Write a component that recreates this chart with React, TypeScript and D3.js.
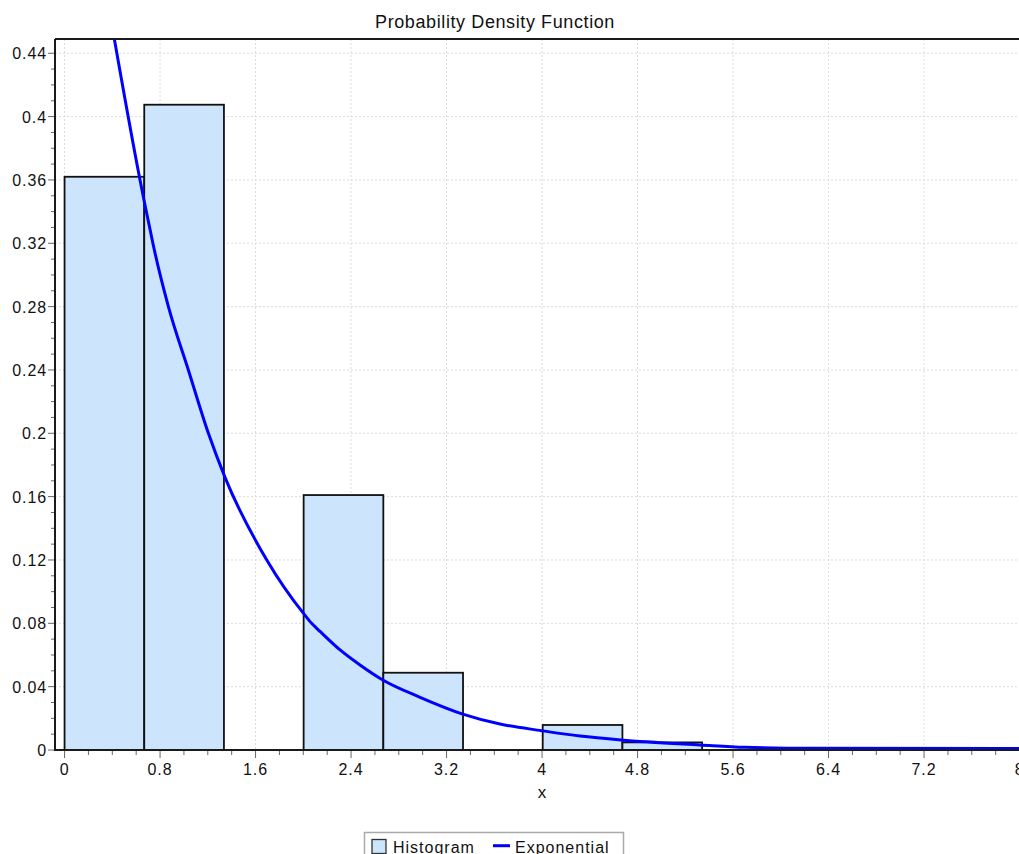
import React, { useEffect, useRef } from 'react';
import * as d3 from 'd3';

// histogram bins (density per bin)
const binEdges = [0, 0.6676, 1.3352, 2.0028, 2.6704, 3.338, 4.0056, 4.6732, 5.3408];
const binDensity = [0.362, 0.4075, 0, 0.161, 0.0488, 0, 0.0158, 0.0048];

// fitted exponential curve
const curveX = [0.41, 0.417, 0.627, 0.666, 0.71, 0.74, 0.87, 1.037, 1.205, 1.345, 1.694, 2.0, 2.07, 2.143, 2.308, 2.475, 2.666, 2.978, 3.336, 3.648, 3.997, 4.318, 4.662, 5.324, 5.7, 6.295, 8.0];
const curveY = [0.452, 0.449, 0.362, 0.347, 0.331, 0.32, 0.28, 0.24, 0.2, 0.172, 0.12, 0.0864, 0.08, 0.0747, 0.0632, 0.0537, 0.0442, 0.0333, 0.0227, 0.0164, 0.0122, 0.0088, 0.0063, 0.0032, 0.0017, 0.0011, 0.0009];

const xTicks = ['0', '0.8', '1.6', '2.4', '3.2', '4', '4.8', '5.6', '6.4', '7.2', '8'];
const yTicks = ['0', '0.04', '0.08', '0.12', '0.16', '0.2', '0.24', '0.28', '0.32', '0.36', '0.4', '0.44'];

const width = 1019;
const height = 854;
const left = 55;
const top = 39;
const bottom = 750;
const font = 'Liberation Sans, Arial, sans-serif';

const drawChart = (el: SVGSVGElement) => {
  const svg = d3.select(el);
  svg.selectAll('*').remove();

  const x = d3.scaleLinear().domain([-0.08, 8.08]).range([left, 1029.1]);
  const y = d3.scaleLinear().domain([0, 0.449]).range([bottom, top]);

  svg.append('defs').append('clipPath').attr('id', 'plot-clip')
    .append('rect').attr('x', left).attr('y', top).attr('width', 1029 - left).attr('height', bottom - top);

  // grid
  const grid = svg.append('g').attr('stroke', '#dcdcdc').attr('stroke-dasharray', '2,2').attr('stroke-width', 1);
  xTicks.forEach(t => {
    grid.append('line').attr('x1', x(+t)).attr('x2', x(+t)).attr('y1', top).attr('y2', bottom);
  });
  yTicks.forEach(t => {
    grid.append('line').attr('x1', left).attr('x2', width).attr('y1', y(+t)).attr('y2', y(+t));
  });

  const plot = svg.append('g').attr('clip-path', 'url(#plot-clip)');

  // bars
  plot.selectAll('rect.bar')
    .data(binDensity)
    .enter()
    .append('rect')
    .attr('class', 'bar')
    .attr('x', (d, i) => x(binEdges[i]))
    .attr('width', (d, i) => x(binEdges[i + 1]) - x(binEdges[i]))
    .attr('y', d => y(d))
    .attr('height', d => Math.max(0.5, bottom - y(d)))
    .attr('fill', '#cce5fc')
    .attr('stroke', '#111')
    .attr('stroke-width', 1.8);

  // curve
  const pts: [number, number][] = curveX.map((v, i) => [v, curveY[i]]);
  const line = d3.line<[number, number]>()
    .x(d => x(d[0]))
    .y(d => y(d[1]))
    .curve(d3.curveMonotoneX);
  plot.append('path')
    .attr('d', line(pts))
    .attr('fill', 'none')
    .attr('stroke', '#0000ff')
    .attr('stroke-width', 3);

  // frame
  const frame = svg.append('g').attr('stroke', '#1a1a1a').attr('stroke-width', 2);
  frame.append('line').attr('x1', left).attr('x2', width).attr('y1', top).attr('y2', top);
  frame.append('line').attr('x1', left).attr('x2', left).attr('y1', top).attr('y2', bottom + 1);
  frame.append('line').attr('x1', left - 1).attr('x2', width).attr('y1', bottom).attr('y2', bottom);

  // ticks
  const ticks = svg.append('g').attr('stroke', '#666').attr('stroke-width', 1);
  d3.range(0, 8.001, 0.2).forEach((v, i) => {
    const major = i % 4 === 0;
    ticks.append('line').attr('x1', x(v)).attr('x2', x(v)).attr('y1', bottom + 1).attr('y2', bottom + (major ? 8 : 5));
  });
  d3.range(0, 0.4401, 0.01).forEach((v, i) => {
    const major = i % 4 === 0;
    ticks.append('line').attr('x1', left - 1).attr('x2', left - (major ? 7 : 4)).attr('y1', y(v)).attr('y2', y(v));
  });

  // tick labels
  const labels = svg.append('g')
    .attr('font-family', font).attr('font-size', 16).attr('fill', '#111')
    .attr('letter-spacing', 0.9);
  xTicks.forEach(t => {
    labels.append('text').attr('x', x(+t)).attr('y', 775).attr('text-anchor', 'middle').text(t);
  });
  yTicks.forEach(t => {
    labels.append('text').attr('x', 47).attr('y', y(+t) + 6).attr('text-anchor', 'end').text(t);
  });

  svg.append('text')
    .attr('x', x(4)).attr('y', 798).attr('text-anchor', 'middle')
    .attr('font-family', font).attr('font-size', 17).attr('fill', '#111')
    .text('x');

  svg.append('text')
    .attr('x', 495).attr('y', 28).attr('text-anchor', 'middle')
    .attr('font-family', font).attr('font-size', 18).attr('letter-spacing', 0.6).attr('fill', '#111')
    .text('Probability Density Function');

  // legend
  const legend = svg.append('g');
  legend.append('rect')
    .attr('x', 364.5).attr('y', 832.5).attr('width', 259).attr('height', 40)
    .attr('fill', '#fff').attr('stroke', '#aaa').attr('stroke-width', 1.5);
  legend.append('rect')
    .attr('x', 372).attr('y', 839.5).attr('width', 14).attr('height', 14)
    .attr('fill', '#cce5fc').attr('stroke', '#333').attr('stroke-width', 1.3);
  legend.append('text')
    .attr('x', 393).attr('y', 852.5)
    .attr('font-family', font).attr('font-size', 16).attr('letter-spacing', 1).attr('fill', '#111')
    .text('Histogram');
  legend.append('line')
    .attr('x1', 493).attr('x2', 510).attr('y1', 845.7).attr('y2', 845.7)
    .attr('stroke', '#0000ff').attr('stroke-width', 3);
  legend.append('text')
    .attr('x', 515).attr('y', 852.5)
    .attr('font-family', font).attr('font-size', 16).attr('letter-spacing', 1).attr('fill', '#111')
    .text('Exponential');
};

const App = () => {
  const ref = useRef<SVGSVGElement>(null);

  useEffect(() => {
    if (ref.current) drawChart(ref.current);
  }, []);

  return (
    <svg
      ref={ref}
      width={width}
      height={height}
      style={{ position: 'absolute', left: 0, top: 0, background: '#fff' }}
    />
  );
};

export default App;
